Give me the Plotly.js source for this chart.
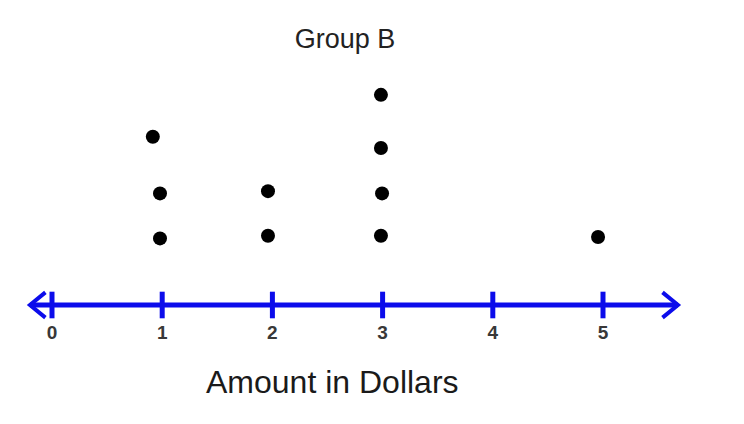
<!DOCTYPE html>
<html>
<head>
<meta charset="utf-8">
<script src="https://cdn.plot.ly/plotly-3.0.1.min.js"></script>
<style>html,body{margin:0;padding:0;background:#fff;}#chart{width:744px;height:424px;}</style>
</head>
<body>
<div id="chart"></div>
<script>
// Data
var dotAmounts = [0.98, 0.98, 0.915, 1.96, 1.96, 2.985, 2.995, 2.985, 2.985, 4.955];
var dotHeights = [1.48, 2.48, 3.74, 1.54, 2.53, 1.54, 2.48, 3.49, 4.67, 1.51];
var tickValues = [0, 1, 2, 3, 4, 5];
var tickLabels = ['0', '1', '2', '3', '4', '5'];
var lineStart = -0.2;
var lineEnd = 5.68;
var chartTitle = 'Group B';
var axisTitle = 'Amount in Dollars';

var blue = 'rgb(12,12,235)';
var armDx = 0.14, armDy = 0.28;

var traces = [
  { // number line
    x: [lineStart, lineEnd], y: [0, 0], mode: 'lines',
    line: {color: blue, width: 5}, hoverinfo: 'skip', showlegend: false
  },
  { // left arrow head
    x: [lineStart + armDx, lineStart, lineStart + armDx], y: [armDy, 0, -armDy], mode: 'lines',
    line: {color: blue, width: 4}, hoverinfo: 'skip', showlegend: false
  },
  { // right arrow head
    x: [lineEnd - armDx, lineEnd, lineEnd - armDx], y: [armDy, 0, -armDy], mode: 'lines',
    line: {color: blue, width: 4}, hoverinfo: 'skip', showlegend: false
  },
  { // tick marks
    x: tickValues, y: tickValues.map(function(){return 0;}), mode: 'markers',
    marker: {symbol: 'line-ns', size: 19, line: {color: blue, width: 5}},
    hoverinfo: 'skip', showlegend: false
  },
  { // tick labels
    x: tickValues, y: tickValues.map(function(){return -0.66;}), mode: 'text',
    text: tickLabels, textposition: 'middle center',
    textfont: {family: 'Liberation Sans, Arial, sans-serif', size: 19, color: '#383838', weight: 'bold'},
    hoverinfo: 'skip', showlegend: false
  },
  { // dots
    x: dotAmounts, y: dotHeights, mode: 'markers',
    marker: {color: '#000', size: 14}, showlegend: false
  }
];

var layout = {
  width: 744, height: 424,
  margin: {l: 0, r: 0, t: 0, b: 0},
  paper_bgcolor: '#fff', plot_bgcolor: '#fff',
  title: {
    text: chartTitle, x: 345/744, xanchor: 'center', xref: 'paper',
    y: 1 - 39/424, yanchor: 'middle', yref: 'container',
    font: {family: 'Liberation Sans, Arial, sans-serif', size: 27, color: '#222'}
  },
  xaxis: {range: [-52/110.2, 692/110.2], visible: false, fixedrange: true},
  yaxis: {range: [-119/45, 305/45], visible: false, fixedrange: true},
  annotations: [{
    text: axisTitle, xref: 'paper', yref: 'paper',
    x: 332/744, y: 1 - 382/424, xanchor: 'center', yanchor: 'middle',
    showarrow: false,
    font: {family: 'Liberation Sans, Arial, sans-serif', size: 32, color: '#1a1a1a'}
  }]
};

Plotly.newPlot('chart', traces, layout, {displayModeBar: false, staticPlot: true});
</script>
</body>
</html>
